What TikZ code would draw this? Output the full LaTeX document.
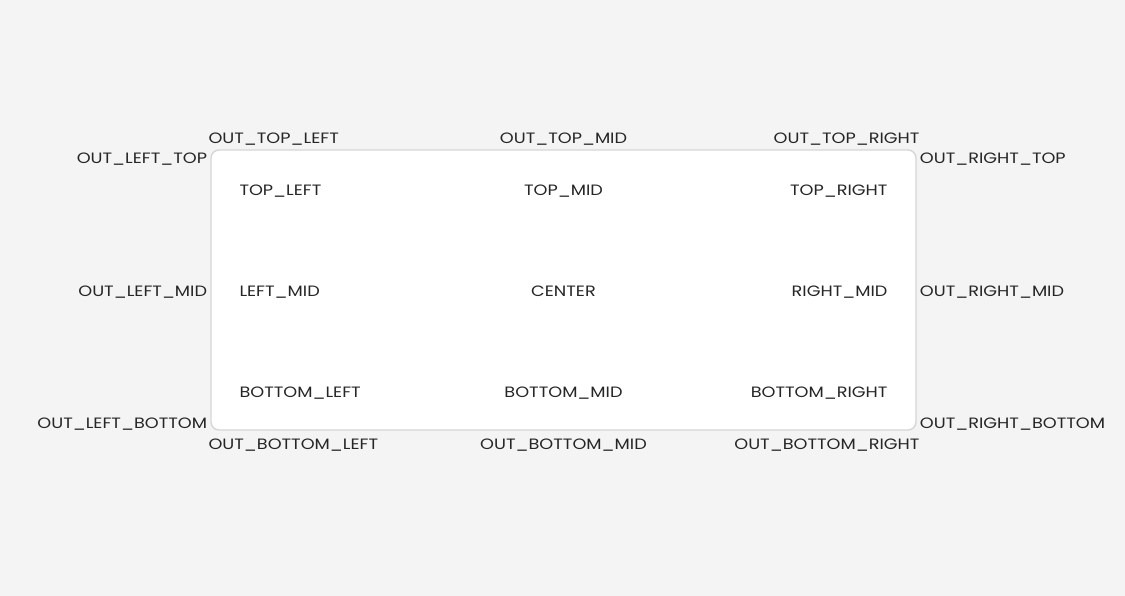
\documentclass[tikz,border=0pt]{standalone}
\usepackage{fontspec}
\setmainfont[FakeStretch=1.18]{Poppins}
\usetikzlibrary{positioning}
\definecolor{bg}{HTML}{F4F4F4}
\definecolor{edge}{HTML}{D6D6D6}
\definecolor{ink}{HTML}{262626}

\begin{document}
\begin{tikzpicture}[x=1pt, y=-1pt,
        box/.style={draw=edge, line width=1.4pt, fill=white, rounded corners=8pt,
          minimum width=705pt, minimum height=280pt, inner sep=0pt},
        l/.style={text=ink, font=\fontsize{15}{15}\selectfont, inner sep=0pt,
          text height=10.5pt, text depth=0pt, yshift=-1pt}]
        \fill[bg] (0,0) rectangle (1125,596);
        \node[box] (box) at (563.5,290) {};

        % outside, above and below
        \node[l, above right=7pt and -2pt of box.north west] (otl) {OUT\_TOP\_LEFT};
        \node[l, above=7pt of box.north] (otm) {OUT\_TOP\_MID};
        \node[l, above left=7pt and -3pt of box.north east] (otr) {OUT\_TOP\_RIGHT};
        \node[l, below right=7.5pt and -2pt of box.south west] (obl) {OUT\_BOTTOM\_LEFT};
        \node[l, below=7.5pt of box.south] (obm) {OUT\_BOTTOM\_MID};
        \node[l, below left=7.5pt and -3pt of box.south east] (obr) {OUT\_BOTTOM\_RIGHT};

        % outside, left and right
        \node[l, below left=2.5pt and 3pt of box.north west] (olt) {OUT\_LEFT\_TOP};
        \node[l, left=3pt of box.west] (olm) {OUT\_LEFT\_MID};
        \node[l, above left=3.5pt and 3pt of box.south west] (olb) {OUT\_LEFT\_BOTTOM};
        \node[l, below right=2.5pt and 3pt of box.north east] (ort) {OUT\_RIGHT\_TOP};
        \node[l, right=3pt of box.east] (orm) {OUT\_RIGHT\_MID};
        \node[l, above right=3.5pt and 3pt of box.south east] (orb) {OUT\_RIGHT\_BOTTOM};

        % inside
        \node[l, below right=34.5pt and 29pt of box.north west] (tl) {TOP\_LEFT};
        \node[l, below=34.5pt of box.north] (tm) {TOP\_MID};
        \node[l, below left=34.5pt and 29pt of box.north east] (tr) {TOP\_RIGHT};
        \node[l, right=29pt of box.west] (lm) {LEFT\_MID};
        \node[l] (c) at (box.center) {CENTER};
        \node[l, left=29pt of box.east] (rm) {RIGHT\_MID};
        \node[l, above right=34.5pt and 29pt of box.south west] (bl) {BOTTOM\_LEFT};
        \node[l, above=34.5pt of box.south] (bm) {BOTTOM\_MID};
        \node[l, above left=34.5pt and 29pt of box.south east] (br) {BOTTOM\_RIGHT};
      \end{tikzpicture}
\end{document}
